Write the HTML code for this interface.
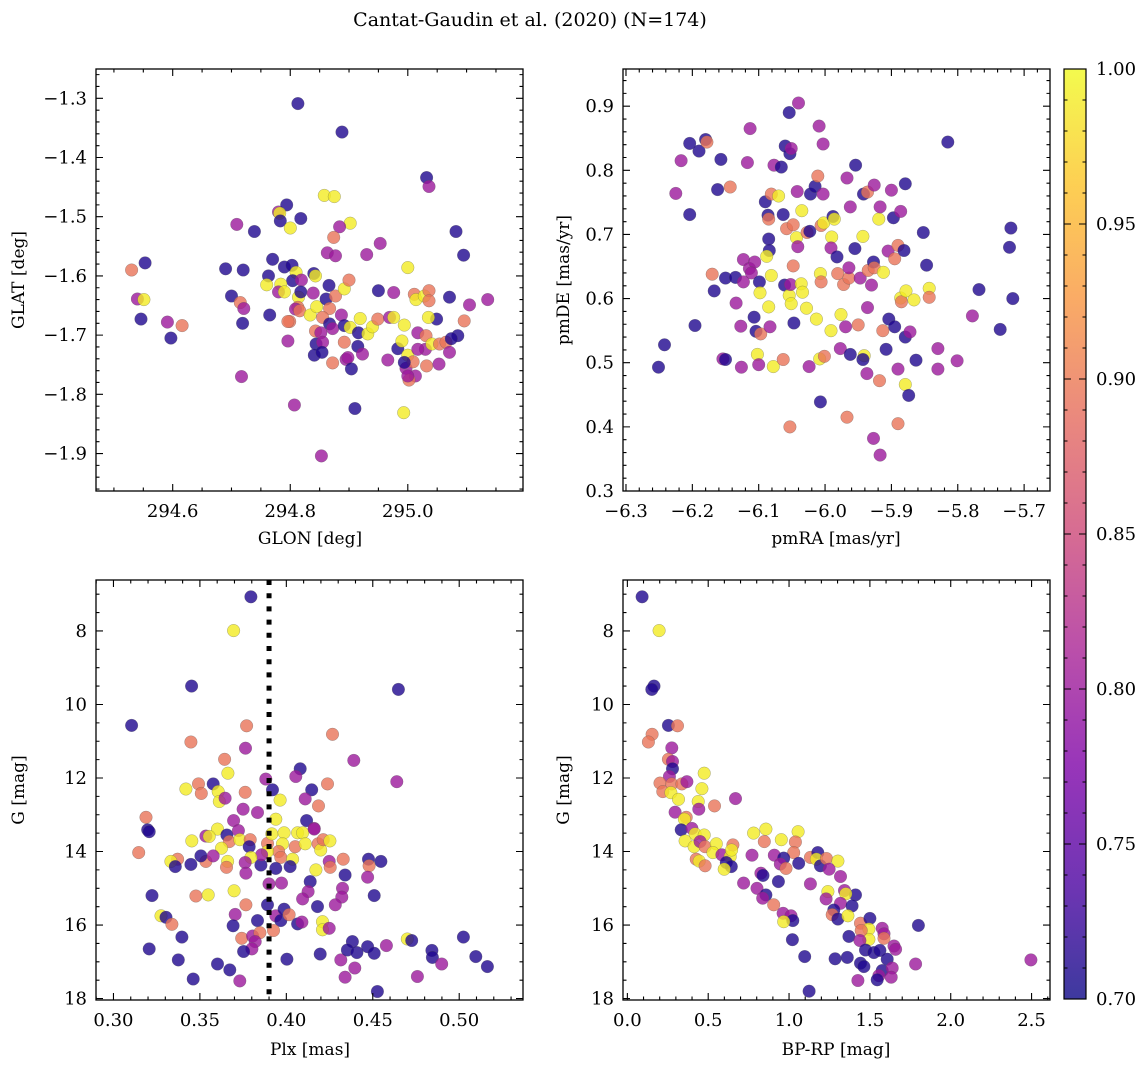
<!DOCTYPE html>
<html><head><meta charset="utf-8"><style>
html,body{margin:0;padding:0;background:#fff}
svg{display:block;font-family:"DejaVu Serif","Liberation Serif",serif}
</style></head><body>
<svg id="fig" width="1148" height="1068" viewBox="0 0 1148 1068" xmlns="http://www.w3.org/2000/svg">
<defs><linearGradient id="plasma" x1="0" y1="1" x2="0" y2="0">
<stop offset="0" stop-color="#0d0887"/><stop offset="0.125" stop-color="#4c02a1"/><stop offset="0.25" stop-color="#7e03a8"/><stop offset="0.375" stop-color="#a92395"/><stop offset="0.5" stop-color="#cc4778"/><stop offset="0.625" stop-color="#e56b5d"/><stop offset="0.75" stop-color="#f89540"/><stop offset="0.875" stop-color="#fdc328"/><stop offset="1" stop-color="#f0f921"/></linearGradient></defs>
<text x="530" y="26" font-size="19" text-anchor="middle">Cantat-Gaudin et al. (2020) (N=174)</text>
<text x="310" y="544" font-size="17" text-anchor="middle">GLON [deg]</text>
<text transform="translate(24,280) rotate(-90)" font-size="17" text-anchor="middle">GLAT [deg]</text>
<text x="836" y="544" font-size="17" text-anchor="middle">pmRA [mas/yr]</text>
<text transform="translate(569,280) rotate(-90)" font-size="17" text-anchor="middle">pmDE [mas/yr]</text>
<text x="310" y="1055" font-size="17" text-anchor="middle">Plx [mas]</text>
<text transform="translate(24,790) rotate(-90)" font-size="17" text-anchor="middle">G [mag]</text>
<text x="836" y="1055" font-size="17" text-anchor="middle">BP-RP [mag]</text>
<text transform="translate(569,790) rotate(-90)" font-size="17" text-anchor="middle">G [mag]</text>
</svg>
<script>
const N=0.71,P=0.80,S=0.895,Y=0.99;
// Panel 1: GLON / GLAT
const glon=[294.530,294.553,294.540,294.551,294.546,294.591,294.616,294.597,294.709,294.739,294.690,294.720,294.700,294.715,294.721,294.719,294.717,294.765,294.763,294.760,294.770,294.780,294.794,294.782,294.783,294.818,294.800,294.790,294.803,294.810,294.804,294.819,294.784,294.780,294.790,294.814,294.818,294.813,294.809,294.796,294.807,294.813,294.888,294.858,294.875,294.902,294.884,294.874,294.863,294.877,294.930,294.953,294.840,294.843,294.866,294.839,294.816,294.834,294.845,294.861,294.867,294.877,294.892,294.900,294.855,294.867,294.887,294.799,294.843,294.852,294.872,294.892,294.902,294.844,294.855,294.841,294.854,294.872,294.892,294.895,294.898,294.904,294.915,294.923,294.910,294.853,294.919,294.916,294.932,294.940,294.949,294.950,294.976,294.969,294.976,294.966,294.983,294.990,294.994,295.000,295.000,294.993,294.997,295.009,295.013,295.002,295.011,295.014,295.017,295.028,295.036,295.036,295.032,295.036,295.031,295.030,295.032,295.041,295.049,295.035,295.054,295.053,295.065,295.071,295.071,295.082,295.095,295.085,295.096,295.105,295.136,295.074,294.796,295.017,294.994,295.000];
const glat=[-1.590,-1.578,-1.639,-1.640,-1.673,-1.678,-1.684,-1.705,-1.513,-1.525,-1.588,-1.590,-1.634,-1.645,-1.655,-1.680,-1.770,-1.666,-1.600,-1.615,-1.572,-1.492,-1.480,-1.494,-1.507,-1.503,-1.519,-1.585,-1.582,-1.594,-1.608,-1.607,-1.614,-1.627,-1.627,-1.636,-1.627,-1.653,-1.656,-1.710,-1.818,-1.309,-1.357,-1.464,-1.466,-1.511,-1.517,-1.535,-1.561,-1.566,-1.564,-1.545,-1.596,-1.600,-1.616,-1.629,-1.659,-1.666,-1.652,-1.639,-1.655,-1.634,-1.622,-1.607,-1.670,-1.681,-1.666,-1.677,-1.693,-1.696,-1.689,-1.684,-1.687,-1.715,-1.712,-1.734,-1.729,-1.747,-1.712,-1.741,-1.738,-1.757,-1.719,-1.732,-1.824,-1.904,-1.672,-1.696,-1.698,-1.686,-1.673,-1.625,-1.628,-1.670,-1.670,-1.742,-1.723,-1.710,-1.683,-1.586,-1.734,-1.831,-1.756,-1.745,-1.769,-1.776,-1.631,-1.640,-1.696,-1.634,-1.625,-1.642,-1.434,-1.449,-1.701,-1.724,-1.752,-1.715,-1.673,-1.670,-1.715,-1.749,-1.712,-1.729,-1.636,-1.525,-1.565,-1.701,-1.676,-1.649,-1.640,-1.706,-1.677,-1.724,-1.746,-1.769];
const prob1=[S,N,P,Y,N,P,S,N,P,N,N,N,N,S,P,N,P,N,N,Y,N,P,N,Y,N,N,Y,N,N,Y,N,P,Y,P,Y,Y,N,S,P,P,P,N,N,Y,Y,Y,P,S,P,P,P,P,N,Y,N,P,S,Y,Y,N,S,S,Y,S,S,N,P,S,S,P,P,N,Y,N,P,N,N,S,S,P,P,N,N,P,N,P,Y,N,Y,Y,S,N,P,P,Y,P,N,Y,Y,Y,Y,Y,P,S,P,S,S,Y,P,Y,S,S,N,P,S,P,S,Y,N,Y,S,P,S,P,N,N,N,N,S,P,P,N,S,P,N,P];
// Panel 2: pmRA / pmDE
const pmra=[-6.251,-6.242,-6.225,-6.217,-6.204,-6.204,-6.196,-6.190,-6.180,-6.178,-6.170,-6.167,-6.157,-6.162,-6.154,-6.150,-6.150,-6.143,-6.135,-6.134,-6.127,-6.126,-6.123,-6.117,-6.113,-6.123,-6.114,-6.106,-6.111,-6.099,-6.107,-6.104,-6.097,-6.098,-6.102,-6.100,-6.090,-6.086,-6.085,-6.085,-6.084,-6.088,-6.081,-6.085,-6.081,-6.083,-6.078,-6.077,-6.066,-6.070,-6.063,-6.058,-6.061,-6.063,-6.060,-6.053,-6.051,-6.054,-6.040,-6.054,-6.051,-6.048,-6.043,-6.041,-6.042,-6.047,-6.048,-6.052,-6.036,-6.034,-6.035,-6.027,-6.023,-6.028,-6.022,-6.015,-6.011,-6.009,-6.003,-6.003,-6.006,-6.002,-6.007,-6.006,-6.013,-6.008,-6.001,-6.024,-6.007,-6.053,-5.990,-5.991,-5.988,-5.986,-5.982,-5.981,-5.972,-5.964,-5.964,-5.991,-5.976,-5.969,-5.967,-5.962,-5.954,-5.955,-5.947,-5.950,-5.977,-5.962,-5.941,-5.943,-5.937,-5.942,-5.936,-5.926,-5.943,-5.935,-5.927,-5.926,-5.930,-5.936,-5.919,-5.917,-5.912,-5.918,-5.927,-5.917,-5.967,-5.913,-5.904,-5.908,-5.900,-5.897,-5.886,-5.905,-5.890,-5.895,-5.881,-5.895,-5.879,-5.872,-5.886,-5.885,-5.878,-5.866,-5.879,-5.890,-5.879,-5.874,-5.890,-5.863,-5.852,-5.847,-5.843,-5.843,-5.830,-5.830,-5.815,-5.801,-5.778,-5.768,-5.736,-5.722,-5.720,-5.717];
const pmde=[0.493,0.528,0.764,0.815,0.842,0.731,0.558,0.830,0.848,0.844,0.638,0.612,0.817,0.770,0.506,0.505,0.632,0.774,0.633,0.593,0.557,0.493,0.661,0.812,0.865,0.626,0.647,0.657,0.640,0.626,0.571,0.549,0.545,0.609,0.513,0.497,0.751,0.730,0.724,0.693,0.675,0.666,0.763,0.587,0.636,0.556,0.494,0.808,0.805,0.760,0.731,0.709,0.621,0.505,0.838,0.826,0.834,0.890,0.905,0.605,0.592,0.715,0.695,0.681,0.767,0.562,0.651,0.622,0.623,0.610,0.737,0.703,0.705,0.585,0.763,0.775,0.791,0.869,0.841,0.763,0.714,0.718,0.639,0.626,0.568,0.506,0.510,0.494,0.439,0.400,0.696,0.679,0.728,0.724,0.665,0.639,0.622,0.632,0.648,0.550,0.575,0.556,0.788,0.743,0.808,0.678,0.632,0.559,0.522,0.513,0.511,0.505,0.483,0.763,0.766,0.777,0.697,0.644,0.657,0.648,0.621,0.586,0.724,0.743,0.641,0.472,0.382,0.356,0.415,0.550,0.568,0.521,0.769,0.726,0.736,0.674,0.683,0.662,0.675,0.556,0.540,0.548,0.601,0.595,0.612,0.598,0.779,0.490,0.466,0.449,0.405,0.504,0.703,0.652,0.616,0.602,0.522,0.490,0.844,0.503,0.573,0.614,0.552,0.680,0.710,0.600];
const prob2=[N,N,P,P,N,N,N,N,N,S,S,N,N,N,P,N,N,S,N,P,P,P,P,P,P,P,P,P,P,N,N,N,S,Y,Y,P,N,N,S,N,N,Y,S,Y,Y,P,Y,P,N,Y,N,S,N,S,N,N,P,N,P,Y,Y,S,Y,P,P,N,S,P,Y,Y,Y,S,N,Y,N,N,S,P,P,P,S,Y,Y,S,Y,Y,S,P,N,S,Y,P,N,Y,N,S,S,S,P,Y,Y,P,P,P,N,N,P,S,P,N,Y,N,P,N,S,P,Y,S,N,S,P,P,Y,P,Y,S,P,P,S,S,N,N,P,N,P,P,S,S,N,N,N,P,Y,S,Y,Y,N,P,Y,N,S,N,N,N,Y,S,P,P,N,P,P,N,N,N,N,N];
// Panel 3: Plx / G
const plx=[0.3795,0.3695,0.3452,0.4648,0.3105,0.3770,0.3448,0.4267,0.3764,0.3643,0.4390,0.3662,0.4080,0.4055,0.3881,0.4639,0.4238,0.3419,0.3492,0.3577,0.3508,0.3606,0.3612,0.3646,0.3762,0.3920,0.3964,0.4147,0.4109,0.4186,0.3750,0.3833,0.3188,0.3939,0.4117,0.4161,0.3695,0.3198,0.3207,0.3602,0.3535,0.3554,0.3656,0.3723,0.3453,0.3670,0.3731,0.3625,0.3791,0.3785,0.3891,0.3916,0.3987,0.3978,0.3955,0.3891,0.3968,0.4051,0.4065,0.4094,0.4109,0.4161,0.4184,0.4199,0.4213,0.4252,0.4036,0.4022,0.3939,0.3853,0.3857,0.3795,0.3762,0.3766,0.3660,0.3654,0.3535,0.3506,0.3448,0.3371,0.3332,0.3358,0.3146,0.3577,0.4248,0.4254,0.4171,0.4329,0.4475,0.4547,0.4479,0.4470,0.4340,0.4138,0.4126,0.4094,0.4325,0.4321,0.4283,0.4180,0.3972,0.3900,0.4508,0.3223,0.3477,0.3548,0.3698,0.3766,0.3891,0.3275,0.3304,0.3338,0.3704,0.3692,0.3833,0.3939,0.3968,0.3987,0.4016,0.4065,0.4090,0.4209,0.4209,0.4248,0.3396,0.3742,0.3805,0.3847,0.3926,0.3820,0.3801,0.3753,0.3207,0.3375,0.3602,0.3673,0.3461,0.3731,0.4003,0.4196,0.4315,0.4340,0.4396,0.4382,0.4353,0.4408,0.4470,0.4508,0.4579,0.4700,0.4725,0.4527,0.4758,0.4842,0.4845,0.4899,0.5024,0.5096,0.5163];
const gmag3=[7.07,7.99,9.50,9.59,10.57,10.58,11.02,10.81,11.19,11.49,11.52,11.87,11.75,11.96,12.03,12.10,12.16,12.30,12.16,12.16,12.42,12.37,12.64,12.55,12.39,12.32,12.60,12.32,12.57,12.76,12.85,12.94,13.07,13.12,13.16,13.37,13.16,13.41,13.46,13.39,13.58,13.59,13.55,13.43,13.71,13.73,13.68,13.91,13.68,13.87,13.78,13.52,13.49,13.79,14.00,14.00,14.16,13.87,13.49,13.49,13.79,13.39,13.79,13.96,13.68,13.71,14.21,14.41,14.46,14.37,14.09,14.16,14.30,14.59,14.27,14.43,14.27,14.12,14.35,14.21,14.27,14.41,14.03,14.12,14.27,14.43,14.50,14.21,14.21,14.27,14.39,14.70,14.64,14.82,15.09,15.29,15.00,15.24,15.45,15.50,14.86,14.88,15.20,15.20,15.21,15.18,15.07,15.45,15.45,15.75,15.79,15.98,15.71,16.02,15.88,15.75,15.88,15.57,15.72,15.97,15.92,15.91,16.13,16.09,16.33,16.36,16.30,16.21,16.15,16.45,16.65,16.72,16.65,16.95,17.06,17.22,17.47,17.52,16.93,16.79,16.95,17.42,17.17,16.45,16.68,16.75,16.59,16.77,16.56,16.38,16.42,17.81,17.40,16.69,16.88,17.06,16.33,16.86,17.13];
const prob3=[N,Y,N,N,N,S,S,S,P,S,P,Y,N,P,P,P,S,Y,S,N,S,Y,Y,P,S,N,Y,N,P,S,P,P,S,Y,N,P,P,N,N,Y,P,Y,N,P,Y,S,Y,Y,S,N,S,Y,Y,Y,S,Y,S,S,Y,Y,Y,P,S,Y,S,Y,Y,N,N,N,P,Y,P,P,Y,S,S,N,N,S,Y,N,S,P,P,S,Y,S,N,N,S,P,N,N,P,P,P,P,P,N,P,P,N,N,S,Y,Y,S,N,Y,N,S,P,N,N,P,N,N,S,N,P,Y,Y,P,N,S,P,S,S,P,P,N,N,N,N,N,N,P,N,N,P,P,P,N,N,N,N,N,P,Y,N,N,P,N,N,P,N,N,N];
// Panel 4: BP-RP / G
const bprp=[0.091,0.196,0.165,0.151,0.254,0.310,0.153,0.130,0.275,0.254,0.279,0.279,0.260,0.202,0.219,0.275,0.337,0.368,0.269,0.316,0.475,0.461,0.438,0.442,0.539,0.669,0.295,0.364,0.353,0.333,0.399,0.419,0.357,0.413,0.475,0.450,0.481,0.550,0.529,0.426,0.444,0.481,0.585,0.636,0.653,0.645,0.612,0.643,0.599,0.771,0.719,0.781,0.857,0.847,0.952,1.056,1.039,1.029,0.909,0.967,0.946,0.981,1.060,0.826,0.839,0.934,0.802,0.857,0.837,0.905,1.132,1.178,1.169,1.194,1.231,1.302,1.248,1.318,1.132,1.240,1.229,1.343,1.411,1.351,1.318,1.390,1.277,1.267,1.302,1.364,0.963,1.012,1.023,0.967,1.021,1.097,1.285,1.360,1.370,1.442,1.500,1.494,1.494,1.446,1.438,1.576,1.587,1.587,1.473,1.525,1.562,1.607,1.649,1.659,1.442,1.463,1.576,1.638,1.556,1.545,1.632,1.426,1.783,1.800,1.124,2.496];
const gmag4=[7.07,7.99,9.50,9.59,10.57,10.58,10.81,11.02,11.18,11.49,11.55,11.75,11.96,12.14,12.37,12.16,12.16,12.10,12.40,12.58,11.87,12.29,12.64,12.85,12.76,12.56,12.93,13.07,13.12,13.41,13.37,13.52,13.71,13.87,13.55,13.73,13.87,13.79,14.03,14.21,14.26,14.39,14.09,14.14,13.82,13.96,14.30,14.41,14.48,14.10,14.86,13.50,13.39,13.73,13.68,13.46,13.74,14.03,14.10,14.18,14.34,14.46,14.32,14.59,14.65,14.82,15.00,15.18,15.27,15.45,14.16,14.03,14.21,14.39,14.19,14.26,14.48,14.68,14.88,15.09,15.29,15.06,15.18,15.15,15.41,15.48,15.59,15.72,15.84,15.75,15.68,15.75,15.88,15.91,16.40,16.86,16.92,16.88,16.31,15.95,15.82,16.11,16.39,16.15,16.42,16.09,16.24,16.36,16.68,16.75,16.69,16.93,16.57,16.66,17.04,17.13,17.24,17.17,17.38,17.49,17.42,17.51,17.06,16.01,17.80,16.95];
const prob4=[N,Y,N,N,N,S,S,S,P,S,P,N,P,S,S,S,S,P,Y,Y,Y,Y,Y,P,S,P,P,S,Y,N,P,Y,Y,Y,Y,P,S,Y,Y,S,Y,S,P,Y,S,Y,N,N,Y,P,P,Y,Y,S,Y,Y,S,S,P,N,P,S,N,P,N,N,P,N,P,S,S,N,Y,N,S,Y,P,P,P,Y,P,P,N,Y,P,N,N,S,N,Y,P,P,N,Y,N,N,N,N,N,S,N,Y,Y,S,P,P,P,S,N,N,N,N,P,P,N,N,N,P,P,N,P,P,P,N,N,P];
// Colorbar
const cbTicks=[0.70,0.75,0.80,0.85,0.90,0.95,1.00];

const svg=document.getElementById('fig');
const NS='http://www.w3.org/2000/svg';
function mk(tag,attrs,parent){const e=document.createElementNS(NS,tag);for(const k in attrs)e.setAttribute(k,attrs[k]);(parent||svg).appendChild(e);return e;}
const stops=[[0,[13,8,135]],[0.125,[76,2,161]],[0.25,[126,3,168]],[0.375,[169,35,149]],[0.5,[204,71,120]],[0.625,[229,107,93]],[0.75,[248,149,64]],[0.875,[253,195,40]],[1,[240,249,33]]];
function plasma(v){let t=Math.max(0,Math.min(1,(v-0.7)/0.3));for(let i=1;i<stops.length;i++){if(t<=stops[i][0]){const a=stops[i-1],b=stops[i];const f=(t-a[0])/(b[0]-a[0]);const c=a[1].map((q,j)=>Math.round(q+(b[1][j]-q)*f));return 'rgb('+c.join(',')+')';}}return 'rgb(240,249,33)';}
function fmt(v,d){const s=Math.abs(v).toFixed(d);return (v<-1e-9?'\u2212':'')+s;}
function ticks(min,max,step){const out=[];const a=Math.ceil(min/step-1e-6),b=Math.floor(max/step+1e-6);for(let i=a;i<=b;i++)out.push(+(i*step).toFixed(6));return out;}

const panels=[
 {name:'glon-glat',L:96,R:523,T:69,B:491,xd:[294.4695,295.196],yd:[-1.9633,-1.2505],inv:false,xs:glon,ys:glat,cs:prob1,xM:0.2,xm:0.05,yM:0.1,ym:0.02,xdp:1,ydp:1},
 {name:'pmra-pmde',L:623,R:1050,T:69,B:491,xd:[-6.3045,-5.661],yd:[0.3,0.958],inv:false,xs:pmra,ys:pmde,cs:prob2,xM:0.1,xm:0.02,yM:0.1,ym:0.02,xdp:1,ydp:1},
 {name:'plx-g',L:96,R:523,T:580,B:1000,xd:[0.2899,0.5369],yd:[6.613,18.04],inv:true,xs:plx,ys:gmag3,cs:prob3,xM:0.05,xm:0.01,yM:2,ym:0.5,xdp:2,ydp:0,vline:0.39},
 {name:'bprp-g',L:623,R:1050,T:580,B:1000,xd:[-0.027,2.614],yd:[6.613,18.04],inv:true,xs:bprp,ys:gmag4,cs:prob4,xM:0.5,xm:0.1,yM:2,ym:0.5,xdp:1,ydp:0}
];
panels.forEach(p=>{
 const g=mk('g',{});
 
 
 const sx=v=>p.L+(v-p.xd[0])/(p.xd[1]-p.xd[0])*(p.R-p.L);
 const sy=v=>p.inv?p.T+(v-p.yd[0])/(p.yd[1]-p.yd[0])*(p.B-p.T):p.B-(v-p.yd[0])/(p.yd[1]-p.yd[0])*(p.B-p.T);
 const n=Math.min(p.xs.length,p.ys.length,p.cs.length);
 for(let i=0;i<n;i++){
  const c=mk('circle',{cx:sx(p.xs[i]).toFixed(1),cy:sy(p.ys[i]).toFixed(1),r:6.3,fill:plasma(p.cs[i]),'fill-opacity':0.8,stroke:'#555','stroke-opacity':0.5,'stroke-width':0.5},g);
  
  
 }
 if(p.vline!==undefined){
  const l=mk('line',{x1:sx(p.vline),x2:sx(p.vline),y1:p.T,y2:p.B,stroke:'#000','stroke-width':5,'stroke-dasharray':'5,8.2'},g);
  
  
 }
 const fr=mk('rect',{x:p.L,y:p.T,width:p.R-p.L,height:p.B-p.T,fill:'none',stroke:'#000','stroke-width':1.3},g);
 
 
 let d='';
 ticks(p.xd[0],p.xd[1],p.xm).forEach(v=>{const x=sx(v);d+=`M${x},${p.B}v-3.5M${x},${p.T}v3.5`;});
 ticks(p.yd[0],p.yd[1],p.ym).forEach(v=>{const y=sy(v);d+=`M${p.L},${y}h3.5M${p.R},${y}h-3.5`;});
 ticks(p.xd[0],p.xd[1],p.xM).forEach(v=>{const x=sx(v);d+=`M${x},${p.B}v-7M${x},${p.T}v7`;
  const t=mk('text',{x:x,y:p.B+26,'font-size':18,'text-anchor':'middle'},g);t.textContent=fmt(v,p.xdp);
  
  });
 ticks(p.yd[0],p.yd[1],p.yM).forEach(v=>{const y=sy(v);d+=`M${p.L},${y}h7M${p.R},${y}h-7`;
  const t=mk('text',{x:p.L-9,y:y+6,'font-size':18,'text-anchor':'end'},g);t.textContent=fmt(v,p.ydp);
  
  });
 const tk=mk('path',{d:d,stroke:'#000','stroke-width':1.1,fill:'none'},g);
 
 
});
// colorbar
const cb=mk('g',{});


const cT=69,cB=999,cL=1064,cR=1086;
const cy=v=>cB-(v-0.7)/0.3*(cB-cT);
const cr=mk('rect',{x:cL,y:cT,width:cR-cL,height:cB-cT,fill:'url(#plasma)','fill-opacity':0.8},cb);


const cf=mk('rect',{x:cL,y:cT,width:cR-cL,height:cB-cT,fill:'none',stroke:'#000','stroke-width':1.2},cb);


let cd='';
ticks(0.7,1.0,0.01).forEach(v=>{cd+=`M${cR},${cy(v)}h-3.5M${cL},${cy(v)}h3.5`;});
cbTicks.forEach(v=>{const y=cy(v);cd+=`M${cR},${y}h-7M${cL},${y}h7`;
 const t=mk('text',{x:cR+10,y:y+6,'font-size':18},cb);t.textContent=v.toFixed(2);
 
 });
const ctk=mk('path',{d:cd,stroke:'#000','stroke-width':1.1,fill:'none'},cb);


</script>
</body></html>
